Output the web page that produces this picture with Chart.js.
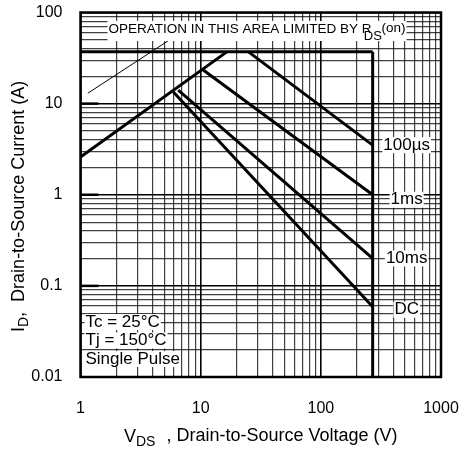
<!DOCTYPE html>
<html>
<head>
<meta charset="utf-8">
<script src="https://cdn.jsdelivr.net/npm/chart.js@4/dist/chart.umd.min.js"></script>
<style>
  html, body { margin: 0; padding: 0; background: #fff; }
</style>
</head>
<body>
<canvas id="soaChart" width="466" height="449"></canvas>
<script>
"use strict";

// axis ranges and tick labels (decades only)
const xDecades = [1, 10, 100, 1000];
const xTickLabels = ["1", "10", "100", "1000"];
const yDecades = [0.01, 0.1, 1, 10, 100];
const yTickLabels = ["0.01", "0.1", "1", "10", "100"];

// safe operating area boundaries
const currentLimitV = [1, 270];
const currentLimitI = [37, 37];
const vdssLimitV = [270, 270];
const vdssLimitI = [37, 0.01];
const rdsLimitV = [1, 16.5];
const rdsLimitI = [2.6, 37];
const us100V = [25, 270];
const us100I = [37, 3.5];
const ms1V = [10.5, 270];
const ms1I = [23.4, 1.0];
const ms10V = [6.5, 270];
const ms10I = [14.1, 0.2];
const dcV = [5.9, 270];
const dcI = [13.5, 0.059];
const pointerV = [1.15, 5.5];
const pointerI = [13, 50];

const curveLabels = ["100µs", "1ms", "10ms", "DC"];
const conditionLines = ["Tc = 25°C", "Tj = 150°C", "Single Pulse"];

const FONT = "'Liberation Sans', Arial, Helvetica, sans-serif";

function toPoints(xs, ys) {
  return xs.map((x, i) => ({ x: x, y: ys[i] }));
}

function logTicks(min, max) {
  let ticks = [];
  for (let e = Math.round(Math.log10(min)); e < Math.round(Math.log10(max)); e++) {
    for (let m = 1; m < 10; m++) {
      ticks.push({ value: Number((m * Math.pow(10, e)).toPrecision(3)) });
    }
  }
  ticks.push({ value: max });
  return ticks;
}

function isDecade(v) {
  return Math.abs(Math.log10(v) - Math.round(Math.log10(v))) < 1e-6;
}

function curve(xs, ys, width) {
  return {
    data: toPoints(xs, ys),
    showLine: true,
    borderColor: "#000",
    borderWidth: width,
    pointRadius: 0,
    tension: 0,
  };
}

// keep the plot area where the reference has it
function noScalePadding(scale) {
  scale.paddingTop = 0;
  scale.paddingBottom = 0;
  scale.paddingLeft = 0;
  scale.paddingRight = 0;
}

// white-backed text, like the labels sitting on the grid paper
function boxedText(ctx, text, x, y, align) {
  let w = ctx.measureText(text).width;
  let left = align === "center" ? x - w / 2 : x;
  ctx.fillStyle = "#fff";
  ctx.fillRect(left - 1, y - 8, w + 2, 16);
  ctx.fillStyle = "#000";
  ctx.textAlign = "left";
  ctx.fillText(text, left, y);
}

const annotations = {
  id: "annotations",
  afterDraw(chart) {
    const { ctx, chartArea, scales } = chart;
    ctx.save();
    ctx.textBaseline = "middle";

    // top note
    ctx.font = "13.5px " + FONT;
    let tx = chartArea.left + 28;
    let ty = chartArea.top + 16.5;
    let main = "OPERATION IN THIS AREA LIMITED BY ";
    let w1 = ctx.measureText(main).width;
    let rw = ctx.measureText("R").width;
    let w3 = ctx.measureText("(on)").width;
    ctx.fillStyle = "#fff";
    ctx.fillRect(tx - 1, ty - 8, w1 + rw + 12 + w3, 20);
    ctx.fillStyle = "#000";
    ctx.textAlign = "left";
    ctx.fillText(main + "R", tx, ty);
    ctx.fillText("(on)", tx + w1 + rw + 10, ty - 1);
    ctx.font = "13px " + FONT;
    ctx.fillText("DS", tx + w1 + 2, ty + 7);

    // curve labels to the right of the VDSS line
    ctx.font = "17px " + FONT;
    const ends = [us100I, ms1I, ms10I, dcI];
    let lx = scales.x.getPixelForValue(vdssLimitV[0]) + 34;
    ends.forEach((arr, i) => {
      let ly = scales.y.getPixelForValue(arr[arr.length - 1]) + (i === 1 ? 5 : i === 3 ? 3 : 0);
      boxedText(ctx, curveLabels[i], lx, ly, "center");
    });

    // test conditions
    ctx.font = "17px " + FONT;
    conditionLines.forEach((t, i) => {
      boxedText(ctx, t, chartArea.left + 5, chartArea.bottom - 55 + i * 18.5, "left");
    });

    // short decade stubs on the left edge
    ctx.strokeStyle = "#000";
    ctx.lineWidth = 2.5;
    [10, 1, 0.1].forEach((v) => {
      let y = scales.y.getPixelForValue(v);
      ctx.beginPath();
      ctx.moveTo(chartArea.left, y);
      ctx.lineTo(chartArea.left + 18, y);
      ctx.stroke();
    });

    // frame
    ctx.strokeRect(chartArea.left, chartArea.top,
      chartArea.right - chartArea.left, chartArea.bottom - chartArea.top);

    // axis titles with subscripts
    ctx.fillStyle = "#000";
    ctx.textAlign = "left";
    ctx.font = "18px " + FONT;
    let xt = 124, yt = 437;
    ctx.fillText("V", xt, yt);
    let vw = ctx.measureText("V").width;
    ctx.font = "14px " + FONT;
    ctx.fillText("DS", xt + vw, yt + 5);
    let dw = ctx.measureText("DS").width;
    ctx.font = "18px " + FONT;
    ctx.fillText(" , Drain-to-Source Voltage (V)", xt + vw + dw + 6, yt - 1);

    ctx.translate(19, 332);
    ctx.rotate(-Math.PI / 2);
    ctx.font = "18px " + FONT;
    ctx.fillText("I", 0, 0);
    let iw = ctx.measureText("I").width;
    ctx.font = "14px " + FONT;
    ctx.fillText("D", iw, 5);
    let dw2 = ctx.measureText("D").width;
    ctx.font = "18px " + FONT;
    ctx.fillText(",  Drain-to-Source Current (A)", iw + dw2, 0);

    ctx.restore();
  },
};

const gridColor = (c) => (c.tick && isDecade(c.tick.value) ? "#000" : "rgba(0,0,0,0.75)");
const gridWidth = (c) => (c.tick && isDecade(c.tick.value) ? 1.6 : 1.2);

new Chart(document.getElementById("soaChart"), {
  type: "scatter",
  data: {
    datasets: [
      curve(currentLimitV, currentLimitI, 3),
      curve(vdssLimitV, vdssLimitI, 3),
      curve(rdsLimitV, rdsLimitI, 3),
      curve(us100V, us100I, 3),
      curve(ms1V, ms1I, 3),
      curve(ms10V, ms10I, 3),
      curve(dcV, dcI, 3),
      curve(pointerV, pointerI, 1),
    ],
  },
  plugins: [annotations],
  options: {
    responsive: false,
    animation: false,
    layout: { padding: { top: 12.5, right: 25, left: 0, bottom: 0 } },
    plugins: { legend: { display: false }, tooltip: { enabled: false } },
    scales: {
      x: {
        type: "logarithmic",
        min: 1,
        max: 1000,
        afterBuildTicks: (scale) => { scale.ticks = logTicks(1, 1000); },
        afterFit: (scale) => { scale.height = 72; noScalePadding(scale); },
        ticks: {
          autoSkip: false,
          maxRotation: 0,
          padding: 22,
          color: "#000",
          font: { family: FONT, size: 16 },
          callback: (v) => {
            let i = xDecades.indexOf(v);
            return i >= 0 ? xTickLabels[i] : "";
          },
        },
        grid: { color: gridColor, lineWidth: gridWidth, drawTicks: false },
        border: { display: false },
      },
      y: {
        type: "logarithmic",
        min: 0.01,
        max: 100,
        afterBuildTicks: (scale) => { scale.ticks = logTicks(0.01, 100); },
        afterFit: (scale) => { scale.width = 80.5; noScalePadding(scale); },
        ticks: {
          autoSkip: false,
          padding: 18,
          color: "#000",
          font: { family: FONT, size: 16 },
          callback: (v) => {
            let i = yDecades.indexOf(v);
            return i >= 0 ? yTickLabels[i] : "";
          },
        },
        grid: { color: gridColor, lineWidth: gridWidth, drawTicks: false },
        border: { display: false },
      },
    },
  },
});
</script>
</body>
</html>
